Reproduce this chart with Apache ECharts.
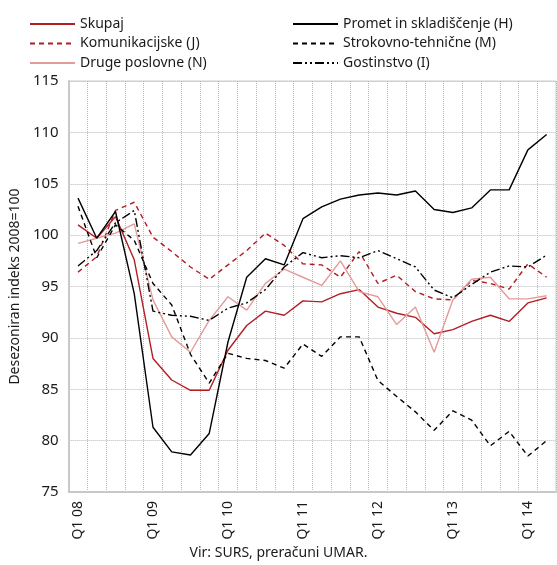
<!DOCTYPE html>
<html>
<head>
<meta charset="utf-8">
<script src="https://cdn.jsdelivr.net/npm/echarts@6/dist/echarts.min.js"></script>
<style>
  html, body { margin: 0; padding: 0; background: #fff; }
  #chart { width: 557px; height: 565px; }
</style>
</head>
<body>
<div id="chart"></div>
<script>
// quarters Q1 08 .. Q2 14
const quarters = ['Q1 08', 'Q2 08', 'Q3 08', 'Q4 08', 'Q1 09', 'Q2 09', 'Q3 09', 'Q4 09',
  'Q1 10', 'Q2 10', 'Q3 10', 'Q4 10', 'Q1 11', 'Q2 11', 'Q3 11', 'Q4 11',
  'Q1 12', 'Q2 12', 'Q3 12', 'Q4 12', 'Q1 13', 'Q2 13', 'Q3 13', 'Q4 13',
  'Q1 14', 'Q2 14']

const skupaj = [101.0, 99.7, 101.8, 97.6, 88.0, 85.9, 84.9, 84.9, 88.8, 91.2, 92.6, 92.2, 93.6,
  93.5, 94.3, 94.7, 93.0, 92.4, 92.0, 90.4, 90.8, 91.6, 92.2, 91.6, 93.4, 93.9]
const promet = [103.6, 99.7, 102.3, 94.3, 81.3, 78.9, 78.6, 80.7, 89.6, 95.9, 97.7, 97.1, 101.6,
  102.75, 103.5, 103.9, 104.1, 103.9, 104.3, 102.5, 102.2, 102.65, 104.4, 104.4, 108.3, 109.8]
const komunikacijske = [96.4, 97.9, 102.4, 103.2, 99.8, 98.4, 96.9, 95.7, 97.1, 98.5, 100.2, 99.0, 97.2,
  97.1, 95.9, 98.4, 95.3, 96.1, 94.5, 93.8, 93.7, 95.6, 95.3, 94.75, 97.2, 95.9]
const strokovno = [102.8, 97.8, 101.0, 99.5, 95.3, 93.2, 88.4, 85.6, 88.5, 88.0, 87.8, 87.05, 89.4,
  88.2, 90.1, 90.1, 85.85, 84.3, 82.8, 81.0, 82.9, 82.0, 79.5, 80.9, 78.5, 80.0]
const drugePoslovne = [99.2, 99.7, 100.2, 101.1, 93.7, 90.1, 88.6, 91.7, 94.0, 92.7, 95.3, 96.7, 95.9,
  95.1, 97.5, 94.5, 94.0, 91.3, 93.0, 88.6, 93.7, 95.7, 95.9, 93.8, 93.8, 94.1]
const gostinstvo = [97.0, 98.5, 101.2, 102.4, 92.6, 92.2, 92.1, 91.7, 92.9, 93.4, 94.7, 96.9, 98.3,
  97.8, 98.0, 97.8, 98.5, 97.7, 96.9, 94.65, 93.9, 95.2, 96.4, 97.0, 96.9, 98.05]

const font = 'Noto Sans'
const darkRed = '#b01f24'
const pink = '#e59a9a'

function line(name, data, color, type) {
  return {
    name: name,
    type: 'line',
    data: data,
    symbol: 'none',
    lineStyle: { color: color, width: 1.4, type: type },
    itemStyle: { color: color },
    z: 3
  }
}

let legendBase = {
  orient: 'vertical',
  top: 12,
  itemWidth: 45, itemHeight: 14, itemGap: 5.5,
  itemStyle: { opacity: 0 },
  textStyle: { fontFamily: font, fontSize: 14, color: '#1a1a1a' }
}

let chart = echarts.init(document.getElementById('chart'))
let options = {
  animation: false,
  textStyle: { fontFamily: font, color: '#1a1a1a' },
  legend: [
    Object.assign({}, legendBase, {
      data: ['Skupaj', 'Komunikacijske (J)', 'Druge poslovne (N)'],
      left: 24
    }),
    Object.assign({}, legendBase, {
      data: ['Promet in skladiščenje (H)', 'Strokovno-tehnične (M)', 'Gostinstvo (I)'],
      left: 287
    })
  ],
  grid: {
    left: 67, top: 81, right: 1, bottom: 73,
    show: true, borderColor: '#cfcfcf', borderWidth: 1
  },
  xAxis: {
    type: 'category',
    data: quarters,
    boundaryGap: true,
    axisLine: { lineStyle: { color: '#c8c8c8', width: 2 } },
    axisTick: { show: false },
    axisLabel: { interval: 3, rotate: 90, fontSize: 14, margin: 9, color: '#1a1a1a', fontFamily: font },
    splitLine: { show: true, interval: 0, lineStyle: { color: '#b8b8b8', type: 'dotted', width: 1 } }
  },
  yAxis: {
    type: 'value',
    min: 75, max: 115, interval: 5,
    name: 'Desezoniran indeks 2008=100',
    nameLocation: 'middle',
    nameRotate: 90,
    nameGap: 39,
    nameTextStyle: { fontSize: 14, color: '#1a1a1a', fontFamily: font },
    axisLine: { show: true, lineStyle: { color: '#c8c8c8', width: 2 } },
    axisTick: { show: false },
    axisLabel: { fontSize: 15, margin: 10, color: '#1a1a1a', fontFamily: font },
    splitLine: { show: true, lineStyle: { color: '#b8b8b8', type: 'dotted', width: 1 } }
  },
  graphic: [
    {
      type: 'text',
      left: 'center',
      top: 546,
      style: { text: 'Vir: SURS, preračuni UMAR.', font: '14px "Noto Sans"', fill: '#1a1a1a' }
    }
  ],
  series: [
    line('Skupaj', skupaj, darkRed, 'solid'),
    line('Komunikacijske (J)', komunikacijske, darkRed, [5, 4]),
    line('Druge poslovne (N)', drugePoslovne, pink, 'solid'),
    line('Promet in skladiščenje (H)', promet, '#000', 'solid'),
    line('Strokovno-tehnične (M)', strokovno, '#000', [5, 4]),
    line('Gostinstvo (I)', gostinstvo, '#000', [9, 3, 2, 3, 2, 3])
  ]
}
chart.setOption(options)
</script>
</body>
</html>
